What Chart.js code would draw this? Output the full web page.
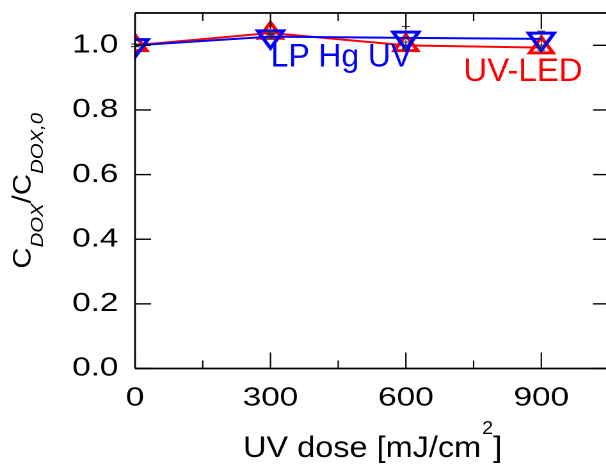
<!DOCTYPE html>
<html>
<head>
<meta charset="utf-8">
<script src="https://cdn.jsdelivr.net/npm/chart.js@4.4.1/dist/chart.umd.min.js"></script>
<style>
  html, body { margin: 0; padding: 0; background: #fff; overflow: hidden; width: 606px; height: 472px; }
  /* the original figure uses wide lettering: draw narrow, stretch sideways */
  #wrap { width: 478px; height: 472px; transform: scaleX(1.28); transform-origin: 0 0; }
</style>
</head>
<body>
<div id="wrap"><canvas id="chart" width="478" height="472"></canvas></div>
<script>
const SX = 1.28;
const FONT = '"Liberation Sans", Arial, sans-serif';

// data
const doses = [0, 300, 600, 900];
const ledValues = [1.0, 1.038, 1.0, 0.993];
const ledErrors = [0.004, 0.006, 0.01, 0.008];
const hgValues = [1.0, 1.027, 1.023, 1.02];
const hgErrors = [0.004, 0.008, 0.035, 0.024];

const xTicks = [0, 300, 600, 900];
const xMinor = [150, 450, 750];
const yTicks = [0, 0.2, 0.4, 0.6, 0.8, 1.0];

const xTitle = ["UV dose [mJ/cm", "2", "]"];
const yTitle = [["C", false], ["DOX", true], ["/", false], ["C", false], ["DOX,0", true]];
const seriesLabels = [
  { text: "LP Hg UV", color: "#0000ff", dose: 305, value: 0.934, width: 140 },
  { text: "UV-LED", color: "#ff0000", dose: 732, value: 0.89, width: 116 },
];

function vline(ctx, x, y1, y2, w) {
  ctx.lineWidth = w / SX;
  ctx.beginPath(); ctx.moveTo(x, y1); ctx.lineTo(x, y2); ctx.stroke();
}
function hline(ctx, x1, x2, y, w) {
  ctx.lineWidth = w;
  ctx.beginPath(); ctx.moveTo(x1, y); ctx.lineTo(x2, y); ctx.stroke();
}

const extras = {
  id: "extras",
  afterDatasetsDraw(chart) {
    const ctx = chart.ctx, xs = chart.scales.x, ys = chart.scales.y;
    ctx.save();
    ctx.strokeStyle = "#333";
    [[ledValues, ledErrors], [hgValues, hgErrors]].forEach(([vals, errs]) => {
      vals.forEach((v, i) => {
        const x = xs.getPixelForValue(doses[i]);
        const y1 = ys.getPixelForValue(v + errs[i]);
        const y2 = ys.getPixelForValue(v - errs[i]);
        vline(ctx, x, y1, y2, 1);
        const cw = 4 / SX;
        hline(ctx, x - cw, x + cw, y1, 1);
        hline(ctx, x - cw, x + cw, y2, 1);
      });
    });
    ctx.restore();
  },
  afterDraw(chart) {
    const ctx = chart.ctx, a = chart.chartArea, xs = chart.scales.x, ys = chart.scales.y;
    ctx.save();
    ctx.strokeStyle = "#000";
    // frame
    vline(ctx, a.left, a.top, a.bottom, 1.8);
    vline(ctx, a.right, a.top, a.bottom, 1.8);
    hline(ctx, a.left, a.right, a.top, 1.8);
    hline(ctx, a.left, a.right, a.bottom, 1.8);
    // inward ticks
    xTicks.forEach(v => {
      const x = xs.getPixelForValue(v);
      vline(ctx, x, a.bottom, a.bottom - 16, 1.4);
      vline(ctx, x, a.top, a.top + 16, 1.4);
    });
    xMinor.forEach(v => {
      const x = xs.getPixelForValue(v);
      vline(ctx, x, a.bottom, a.bottom - 8, 1.4);
      vline(ctx, x, a.top, a.top + 8, 1.4);
    });
    yTicks.forEach(v => {
      const y = ys.getPixelForValue(v);
      hline(ctx, a.left, a.left + 16 / SX, y, 1.4);
      hline(ctx, a.right, a.right - 16 / SX, y, 1.4);
    });

    // texts, drawn in screen units
    ctx.scale(1 / SX, 1);
    ctx.fillStyle = "#000";
    ctx.textBaseline = "alphabetic";
    ctx.textAlign = "left";

    // x title with superscript
    const big = "30px " + FONT, small = "18px " + FONT;
    ctx.font = big;
    const w1 = ctx.measureText(xTitle[0]).width, w3 = ctx.measureText(xTitle[2]).width;
    ctx.font = small;
    const w2 = ctx.measureText(xTitle[1]).width;
    const nat = w1 + w2 + w3, k = 258 / nat;
    ctx.save();
    ctx.translate((a.left + a.right) / 2 * SX - nat * k / 2, 457);
    ctx.scale(k, 1);
    ctx.font = big; ctx.fillText(xTitle[0], 0, 0);
    ctx.font = small; ctx.fillText(xTitle[1], w1 + 1, -23);
    ctx.font = big; ctx.fillText(xTitle[2], w1 + w2 + 1, 0);
    ctx.restore();

    // y title with subscripts
    const main = "26px " + FONT, sub = "italic 18px " + FONT;
    let total = 0;
    const widths = yTitle.map(([t, s]) => { ctx.font = s ? sub : main; const w = ctx.measureText(t).width; total += w; return w; });
    ctx.save();
    ctx.translate(31, (a.top + a.bottom) / 2);
    ctx.rotate(-Math.PI / 2);
    ctx.scale(1.13, 1);
    let px = -total / 2;
    yTitle.forEach(([t, s], i) => {
      ctx.font = s ? sub : main;
      ctx.fillText(t, px, s ? 12 : 0);
      px += widths[i];
    });
    ctx.restore();

    // series labels
    ctx.font = "32px " + FONT;
    seriesLabels.forEach(l => {
      const m = ctx.measureText(l.text);
      const ink = m.actualBoundingBoxRight + m.actualBoundingBoxLeft;
      ctx.save();
      ctx.translate(xs.getPixelForValue(l.dose) * SX, ys.getPixelForValue(l.value));
      ctx.scale(l.width / ink, 1);
      ctx.fillStyle = l.color;
      ctx.fillText(l.text, m.actualBoundingBoxLeft, 0);
      ctx.restore();
    });
    ctx.restore();
  }
};

new Chart(document.getElementById("chart"), {
  type: "line",
  data: {
    datasets: [
      {
        label: "UV-LED",
        data: doses.map((d, i) => ({ x: d, y: ledValues[i] })),
        borderColor: "#ff0000",
        borderWidth: 2,
        pointStyle: "triangle",
        pointRadius: 10.5,
        pointBorderWidth: 3,
        pointBorderColor: "#ff0000",
        pointBackgroundColor: "rgba(0,0,0,0)",
        order: 2,
        clip: 0,
      },
      {
        label: "LP Hg UV",
        data: doses.map((d, i) => ({ x: d, y: hgValues[i] })),
        borderColor: "#0000ff",
        borderWidth: 2,
        pointStyle: "triangle",
        pointRotation: 180,
        pointRadius: 11.5,
        pointBorderWidth: 3,
        pointBorderColor: "#0000ff",
        pointBackgroundColor: "rgba(0,0,0,0)",
        order: 1,
        clip: 0,
      },
    ],
  },
  options: {
    responsive: false,
    animation: false,
    devicePixelRatio: 2,
    layout: { autoPadding: false, padding: { top: 13, right: 2.2, left: 0, bottom: 0 } },
    plugins: { legend: { display: false }, tooltip: { enabled: false } },
    scales: {
      x: {
        type: "linear",
        min: 0,
        max: 1050,
        afterBuildTicks: s => { s.ticks = xTicks.map(v => ({ value: v })); },
        afterFit: s => { s.height = 103.5; s.paddingLeft = 0; s.paddingRight = 0; },
        grid: { display: false, drawTicks: false },
        border: { display: false },
        ticks: {
          autoSkip: false,
          maxRotation: 0,
          padding: 14,
          color: "#000",
          font: { family: FONT, size: 26 },
          callback: v => String(v),
        },
      },
      y: {
        min: 0,
        max: 1.1,
        afterBuildTicks: s => { s.ticks = yTicks.map(v => ({ value: v })); },
        afterFit: s => { s.width = 105.5; s.paddingTop = 0; s.paddingBottom = 0; },
        grid: { display: false, drawTicks: false },
        border: { display: false },
        ticks: {
          padding: 13,
          color: "#000",
          font: { family: FONT, size: 26 },
          callback: v => v.toFixed(1),
        },
      },
    },
  },
  plugins: [extras],
});
</script>
</body>
</html>
